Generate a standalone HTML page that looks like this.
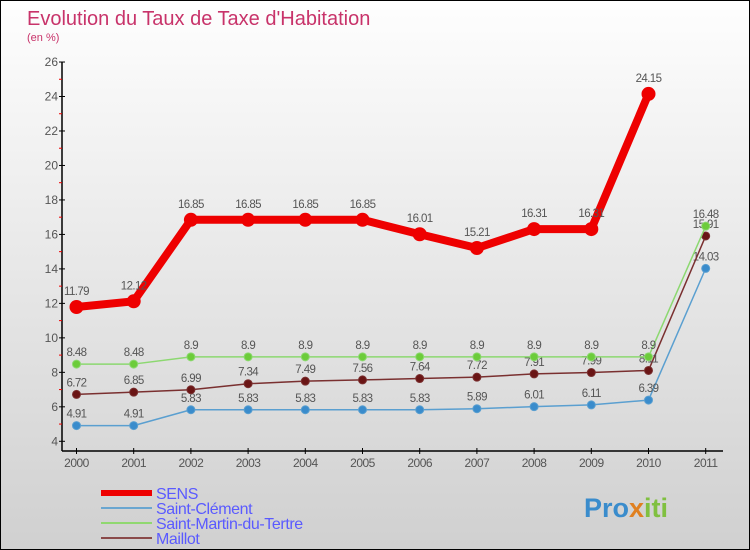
<!DOCTYPE html>
<html><head><meta charset="utf-8"><style>
body{margin:0}
#c{width:750px;height:550px;position:relative;background:linear-gradient(#fefefe,#d0d0d0);border:1px solid #000;box-sizing:border-box;font-family:"Liberation Sans",sans-serif;overflow:hidden}
</style></head><body>
<div id="c">
<svg id="s" width="750" height="550" style="position:absolute;left:0;top:0" font-family="Liberation Sans, sans-serif">
<text x="26" y="24" font-size="20" fill="#c8336a">Evolution du Taux de Taxe d'Habitation</text>
<text x="26" y="40" font-size="11" fill="#c8336a">(en %)</text>
</svg>
</div>
<script>
const years=[2000,2001,2002,2003,2004,2005,2006,2007,2008,2009,2010,2011];
const sens=[11.79,12.12,16.85,16.85,16.85,16.85,16.01,15.21,16.31,16.31,24.15,null];
const stClement=[4.91,4.91,5.83,5.83,5.83,5.83,5.83,5.89,6.01,6.11,6.39,14.03];
const stMartin=[8.48,8.48,8.9,8.9,8.9,8.9,8.9,8.9,8.9,8.9,8.9,16.48];
const maillot=[6.72,6.85,6.99,7.34,7.49,7.56,7.64,7.72,7.91,7.99,8.11,15.91];
const yTicks=[4,6,8,10,12,14,16,18,20,22,24,26];
const s=document.getElementById('s');const NS='http://www.w3.org/2000/svg';
const X=i=>75.5+i*57.2, Y=v=>440.3-(v-4)*17.24;
function el(t,a,txt){const e=document.createElementNS(NS,t);for(const k in a)e.setAttribute(k,a[k]);if(txt!=null)e.textContent=txt;s.appendChild(e);return e;}
let e=el('line',{x1:61,y1:Y(26),x2:61,y2:450,stroke:'#000','stroke-width':1.5});

e=el('line',{x1:61,y1:450,x2:722,y2:450,stroke:'#000','stroke-width':1.5});

yTicks.forEach(v=>{el('line',{x1:58,x2:64,y1:Y(v),y2:Y(v),stroke:'#000'});
 if(v<26)el('line',{x1:58,x2:61,y1:Y(v+1),y2:Y(v+1),stroke:'#e00'});
 e=el('text',{x:57,y:Y(v)+4,'font-size':12,fill:'#555','text-anchor':'end'},v);
 });
years.forEach((y,i)=>{el('line',{x1:X(i),x2:X(i),y1:447,y2:453,stroke:'#000'});
 e=el('text',{x:X(i),y:466,'font-size':12,fill:'#555','text-anchor':'middle','letter-spacing':'-0.5'},y);
 });
function series(d,color,w,r,name,dot){
 const pts=[];d.forEach((v,i)=>{if(v!=null)pts.push(X(i)+','+Y(v));});
 e=el('polyline',{points:pts.join(' '),fill:'none',stroke:color,'stroke-width':w,'stroke-linejoin':'round'});
 
 d.forEach((v,i)=>{if(v==null)return;
  e=el('circle',{cx:X(i),cy:Y(v),r:r,fill:dot,stroke:color,'stroke-width':w>3?0:1});
  
  e=el('text',{x:X(i),y:Y(v)-(w>3?12:8),'font-size':11.5,fill:'#555','text-anchor':'middle','letter-spacing':'-0.6'},String(v));
  });
}
series(stClement,'#5a9fd0',1.5,4,'saint-clement','#3a8ccc');
series(maillot,'#7a3030',1.5,4,'maillot','#6a1515');
series(stMartin,'#8cd870',1.5,4,'saint-martin','#6ccc3a');
series(sens,'#ee0000',8,7,'sens','#ee0000');
const leg=[['SENS','#ee0000',6],['Saint-Clément','#6aa6d0',2],['Saint-Martin-du-Tertre','#90d870',2],['Maillot','#8a4a4a',2]];
leg.forEach((l,i)=>{const y=492+i*15;
 e=el('line',{x1:100,x2:151,y1:y,y2:y,stroke:l[1],'stroke-width':l[2]});
 
 e=el('text',{x:155,y:y+6,'font-size':16,fill:'#5a5aff','letter-spacing':'-0.4'},l[0]);
 });
e=el('text',{x:583,y:516,'font-size':27,'font-weight':'bold',fill:'#3a8ccc'});

e.innerHTML='<tspan>Pro</tspan><tspan fill="#e08020">x</tspan><tspan fill="#80c040">iti</tspan>';
</script>
</body></html>
